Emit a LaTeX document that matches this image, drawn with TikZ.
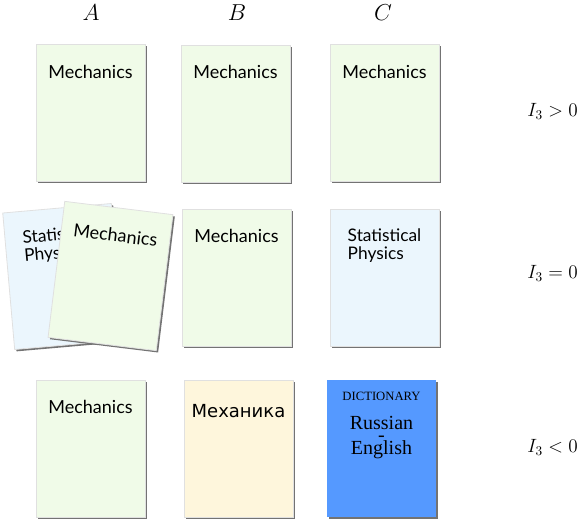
\documentclass[tikz,border=0pt]{standalone}
\usepackage{fontspec}
\usetikzlibrary{shadows,calc}
\newfontfamily\gillfont{Lato}
\newfontfamily\cyrfont{DejaVu Sans}
\newfontfamily\timesfont{Liberation Serif}
\definecolor{mechgreen}{HTML}{F0FBE8}
\definecolor{statblue}{HTML}{EBF6FD}
\definecolor{rusbeige}{HTML}{FEF6DC}
\definecolor{dictblue}{HTML}{5599FF}
\newcommand\bookbody[2]{\begin{minipage}[c][102.75pt][t]{81.75pt}\centering\vspace*{#1}#2\end{minipage}}
\tikzset{
  book/.style={draw=black!12, line width=0.6pt, inner sep=0pt, outer sep=0pt,
    general shadow={fill=black!55, shadow xshift=1.4pt, shadow yshift=-1.4pt}},
  mech/.style={book, fill=mechgreen},
  stat/.style={book, fill=statblue},
  rus/.style={book, fill=rusbeige},
  dict/.style={book, fill=dictblue, draw=none},
  collab/.style={inner sep=0pt, font=\LARGE},
  rowlab/.style={inner sep=0pt, font=\Large, anchor=east}
}
\newcommand\mechtext{\gillfont\fontsize{13.5}{15}\selectfont Mechanics}
\newcommand\stattext{\gillfont\fontsize{13}{13.5}\selectfont\begin{tabular}{@{}l@{}}Statistical\\Physics\end{tabular}}
\begin{document}
\begin{tikzpicture}[x=0.75pt,y=-0.75pt]
\useasboundingbox (0,0) rectangle (581,518);
% column labels
\node[collab] (colA) at (91,13) {$A$};
\node[collab] (colB) at (237,13) {$B$};
\node[collab] (colC) at (383,13) {$C$};
% row labels
\node[rowlab] (rowP) at (578,111) {$I_3>0$};
\node[rowlab] (rowZ) at (578,273) {$I_3=0$};
\node[rowlab] (rowN) at (578,447) {$I_3<0$};
% row 1
\node[mech] (a1) at (90.5,113) {\bookbody{15.5pt}{\mechtext}};
\node[mech] (b1) at (235.5,113.5) {\bookbody{15.5pt}{\mechtext}};
\node[mech] (c1) at (384.5,113) {\bookbody{15.5pt}{\mechtext}};
% row 2
\node[stat, rotate=5] (a2s) at (63,276.5) {\bookbody{14.5pt}{\stattext}};
\node[mech, rotate=-7] (a2m) at (110.5,276) {\bookbody{15.5pt}{\mechtext}};
\node[mech] (b2) at (236.5,277.5) {\bookbody{15.5pt}{\mechtext}};
\node[stat] (c2) at (384.5,277.5) {\bookbody{15pt}{\stattext}};
% row 3
\node[mech] (a3) at (90.5,448.5) {\bookbody{15.5pt}{\mechtext}};
\node[rus] (b3) at (238.5,448.5) {\bookbody{18.5pt}{\cyrfont\fontsize{13.5}{15}\selectfont Механика}};
\node[dict] (c3) at (381.5,448.5) {\bookbody{9pt}{\timesfont{\fontsize{9.5}{11}\selectfont DICTIONARY}\\[2pt]
  \fontsize{15}{19.5}\selectfont Russian\\[-10pt]-\\[-10pt]English}};
\end{tikzpicture}
\end{document}
